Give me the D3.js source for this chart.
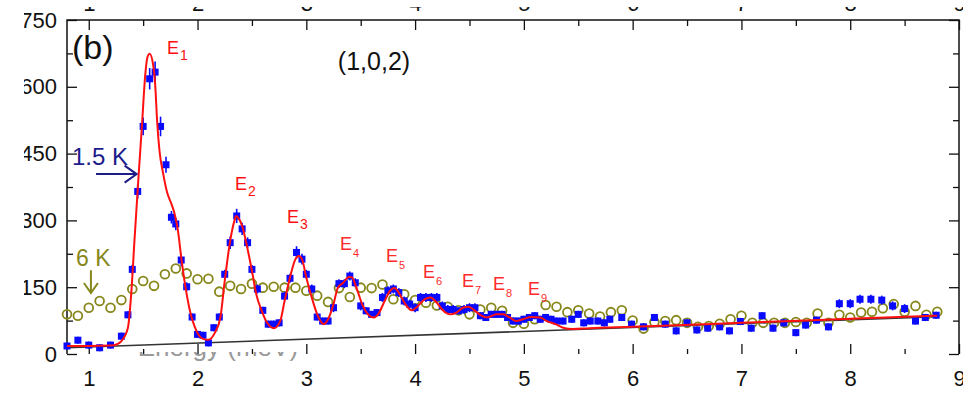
<!DOCTYPE html>
<html>
<head>
<meta charset="utf-8">
<script src="https://cdn.jsdelivr.net/npm/d3@7"></script>
<style>
  html, body { margin: 0; padding: 0; background: #fff; }
  svg { display: block; font-family: "Liberation Sans", Arial, sans-serif; }
</style>
</head>
<body>
<svg id="chart" width="963" height="393"></svg>
<script>
// ---- data: constant-Q cut at (1,0,2), intensity vs energy transfer (meV) ----
const energy6K = [0.8,0.9,1.0,1.1,1.2,1.3,1.4,1.5,1.6,1.7,1.8,1.9,2.0,2.1,2.2,2.3,2.4,2.5,2.6,2.7,
  2.8,2.9,3.0,3.1,3.2,3.3,3.4,3.5,3.6,3.7,3.8,3.9,4.0,4.1,4.2,4.3,4.4,4.5,4.6,4.7,
  4.8,4.9,5.0,5.1,5.2,5.3,5.4,5.5,5.6,5.7,5.8,5.9,6.0,6.1,6.2,6.3,6.4,6.5,6.6,6.7,
  6.8,6.9,7.0,7.1,7.2,7.3,7.4,7.5,7.6,7.7,7.8,7.9,8.0,8.1,8.2,8.3,8.4,8.5,8.6,8.7,8.8];
const counts6K = [89,86,104,119,104,121,146,164,153,179,192,181,168,169,140,153,146,158,149,151,
  149,149,142,131,117,148,128,149,148,156,123,134,121,115,109,106,98,89,100,104,
  97,70,68,78,110,106,94,98,91,84,94,98,75,57,72,74,76,70,61,63,
  68,78,86,70,70,70,70,72,70,91,70,88,82,93,95,103,112,95,108,88,95];

const energy15K = [0.80,0.90,1.00,1.10,1.20,1.30,
  1.36,1.40,1.45,1.50,1.56,1.61,1.66,1.71,1.76,1.80,
  1.85,1.90,1.95,2.00,2.05,2.10,2.15,2.20,2.25,2.30,
  2.36,2.41,2.46,2.50,2.55,2.60,2.65,2.70,2.75,2.80,
  2.85,2.91,2.96,3.00,3.05,3.10,3.15,3.20,3.25,3.30,
  3.35,3.40,3.45,3.50,3.55,3.60,3.65,3.70,3.75,3.80,
  3.85,3.90,3.95,4.00,4.05,4.10,4.15,4.20,4.25,4.30,
  4.35,4.40,4.45,4.50,4.55,4.60,4.65,4.70,4.75,4.80,
  4.85,4.90,4.95,5.00,5.05,5.10,5.15,5.20,5.25,5.30,
  5.36,5.44,5.50,5.55,5.61,5.68,5.74,5.79,5.90,5.99,
  6.10,6.20,6.30,6.40,6.50,6.59,6.69,6.80,6.89,6.99,
  7.09,7.19,7.29,7.39,7.50,7.59,7.69,7.80,7.90,8.00,
  8.09,8.19,8.29,8.39,8.50,8.60,8.69,8.79];
const counts15K = [18,31,20,14,20,40,
  88,190,365,511,618,633,511,425,307,292,
  211,151,83,44,42,25,59,83,179,250,
  310,281,250,190,146,98,67,67,70,130,
  170,228,213,179,146,83,74,74,104,158,
  158,175,160,108,97,89,93,127,142,146,
  138,119,112,104,127,127,127,127,108,100,
  100,97,100,104,104,86,82,89,89,89,
  82,74,74,78,82,86,78,82,78,74,
  74,78,89,70,74,74,70,78,82,67,
  61,82,67,52,70,54,58,61,52,73,
  58,86,58,70,48,65,76,61,113,113,
  123,123,121,108,102,74,82,87];
const err15K = [8,8,8,8,8,8,
  8,10,16,20,24,24,22,18,14,14,
  14,10,8,8,8,8,8,8,10,14,
  16,14,12,10,10,8,8,8,8,10,
  10,14,12,10,10,8,8,8,10,10,
  10,10,10,10,8,8,8,10,10,10,
  10,10,10,10,10,10,10,10,10,10,
  10,8,10,10,10,8,8,8,8,8,
  8,8,8,8,8,8,8,8,8,8,
  8,8,8,8,8,8,8,8,8,8,
  8,8,8,8,8,8,8,8,8,8,
  8,8,8,8,8,8,8,8,10,10,
  10,10,10,10,10,8,8,8];

// multi-peak fit to the 1.5 K data
const fitEnergy = [0.80,1.00,1.20,1.26,1.30,1.36,1.39,1.42,1.455,1.49,1.52,1.54,1.56,1.59,1.61,
  1.63,1.65,1.685,1.72,1.76,1.79,1.82,1.85,1.89,1.93,1.99,2.05,2.10,2.16,2.21,
  2.25,2.30,2.34,2.355,2.37,2.41,2.45,2.50,2.54,2.59,2.64,2.70,2.76,2.80,2.85,
  2.90,2.93,2.96,3.00,3.05,3.10,3.16,3.20,3.25,3.29,3.34,3.39,3.42,3.46,3.52,
  3.58,3.62,3.66,3.72,3.77,3.81,3.85,3.91,3.97,4.01,4.09,4.14,4.20,4.26,4.32,
  4.38,4.44,4.49,4.55,4.61,4.66,4.75,4.81,4.87,4.93,4.99,5.07,5.15,5.21,5.29,
  5.36,5.45,5.60,6.00,7.00,8.00,8.80];
const fitCounts = [18,18,19,22,29,59,134,254,389,517,629,667,674,652,607,
  517,457,404,363,337,314,277,217,149,97,52,34,32,48,82,
  164,254,300,310,307,288,247,187,134,97,70,58,74,119,172,
  213,220,213,172,127,89,67,78,112,149,160,173,172,149,108,
  86,82,89,119,142,148,138,112,98,104,123,127,115,97,89,
  93,104,106,97,86,82,89,89,82,74,78,83,82,74,67,
  59,56,58,61,70,79,86];

// linear background
const bgEnergy = [0.8, 8.8];
const bgCounts = [14, 84];

// axis ticks
const xTicks = [1, 2, 3, 4, 5, 6, 7, 8, 9];
const xMinorTicks = [1.5, 2.5, 3.5, 4.5, 5.5, 6.5, 7.5, 8.5];
const yTicks = [0, 150, 300, 450, 600, 750];
const yMinorTicks = [75, 225, 375, 525, 675];

// mode labels E1..E9 (anchor in data units)
const modeNames = ["1","2","3","4","5","6","7","8","9"];
const modeE = [1.719, 2.344, 2.822, 3.310, 3.733, 4.072, 4.431, 4.716, 5.038];
const modeI = [674, 368, 294, 233, 207, 171, 150, 144, 132];

// ---- drawing ----
const svg = d3.select("#chart");
const x = d3.scaleLinear().domain([0.8, 9.0]).range([67, 959]);
const y = d3.scaleLinear().domain([0, 750]).range([354, 20]);
const X0 = x.range()[0], X1 = x.range()[1], Y0 = y.range()[0], Y1 = y.range()[1];

function styleAxis(g, fs) {
  g.select(".domain").remove();
  g.attr("font-family", "Liberation Sans, Arial, sans-serif").attr("font-size", fs || 22);
  g.selectAll(".tick line").attr("stroke", "#111").attr("stroke-width", 1.3);
  g.selectAll(".tick text").attr("fill", "#111");
}

// x-axis title, hidden below the plot except for its lowest strip
svg.append("text")
  .attr("x", x(1.45)).attr("y", Y0 + 2)
  .attr("font-size", 26).attr("fill", "#999")
  .text("Energy (meV)");
svg.append("rect")
  .attr("x", x(1.2)).attr("y", Y0 - 30).attr("width", x(3.4) - x(1.2)).attr("height", 28)
  .attr("fill", "#fff");

// bottom axis (ticks point inward, no base line)
svg.append("g").attr("transform", `translate(0,${Y0})`)
  .call(d3.axisBottom(x).tickValues(xTicks).tickSize(-10).tickPadding(16).tickFormat(d3.format("d")))
  .call(g => styleAxis(g));
svg.append("g").attr("transform", `translate(0,${Y0})`)
  .call(d3.axisBottom(x).tickValues(xMinorTicks).tickSize(-5).tickFormat(""))
  .call(g => styleAxis(g));

// top tick labels, mostly beyond the page edge
svg.append("g").attr("transform", `translate(0,${Y1})`)
  .call(d3.axisTop(x).tickValues(xTicks).tickSize(0).tickPadding(9.5).tickFormat(d3.format("d")))
  .call(g => styleAxis(g));
svg.append("rect").attr("x", 0).attr("y", 0).attr("width", 963).attr("height", 7).attr("fill", "#fff");

// top axis ticks
svg.append("g").attr("transform", `translate(0,${Y1})`)
  .call(d3.axisTop(x).tickValues(xTicks).tickSize(-10).tickFormat(""))
  .call(g => styleAxis(g));
svg.append("g").attr("transform", `translate(0,${Y1})`)
  .call(d3.axisTop(x).tickValues(xMinorTicks).tickSize(-6).tickFormat(""))
  .call(g => styleAxis(g));

// left axis (labels trimmed by the left margin)
svg.append("g").attr("transform", `translate(${X0},0)`)
  .call(d3.axisLeft(y).tickValues(yTicks).tickSize(-10).tickPadding(10))
  .call(g => styleAxis(g));
svg.append("rect").attr("x", 0).attr("y", 0).attr("width", 24).attr("height", 393).attr("fill", "#fff");
svg.append("g").attr("transform", `translate(${X0},0)`)
  .call(d3.axisLeft(y).tickValues(yMinorTicks).tickSize(-6).tickFormat(""))
  .call(g => styleAxis(g));

// right axis
svg.append("g").attr("transform", `translate(${X1},0)`)
  .call(d3.axisRight(y).tickValues(yTicks).tickSize(-10).tickFormat(""))
  .call(g => styleAxis(g));
svg.append("g").attr("transform", `translate(${X1},0)`)
  .call(d3.axisRight(y).tickValues(yMinorTicks).tickSize(-6).tickFormat(""))
  .call(g => styleAxis(g));

// frame: left, top, right
svg.append("path")
  .attr("d", `M${X0},${Y0}V${Y1}H${X1}V${Y0}`)
  .attr("fill", "none").attr("stroke", "#111").attr("stroke-width", 1.5);

// background line
const bgData = bgEnergy.map((e, i) => [e, bgCounts[i]]);
svg.append("path")
  .datum(bgData)
  .attr("d", d3.line().x(d => x(d[0])).y(d => y(d[1])))
  .attr("fill", "none").attr("stroke", "#333").attr("stroke-width", 1.6);

// 6 K: open circles
const olive = "#87871c";
svg.append("g").selectAll("circle")
  .data(energy6K.map((e, i) => [e, counts6K[i]]))
  .join("circle")
  .attr("cx", d => x(d[0])).attr("cy", d => y(d[1])).attr("r", 4.4)
  .attr("fill", "none").attr("stroke", olive).attr("stroke-width", 1.8);

// 1.5 K: filled squares with error bars
const blue = "#0a0aff";
const pts = energy15K.map((e, i) => ({ e, c: counts15K[i], s: err15K[i] }));
svg.append("g").selectAll("line")
  .data(pts).join("line")
  .attr("x1", d => x(d.e)).attr("x2", d => x(d.e))
  .attr("y1", d => y(d.c - d.s)).attr("y2", d => y(d.c + d.s))
  .attr("stroke", blue).attr("stroke-width", 1.6);
const sq = 7;
svg.append("g").selectAll("rect")
  .data(pts).join("rect")
  .attr("x", d => x(d.e) - sq / 2).attr("y", d => y(d.c) - sq / 2)
  .attr("width", sq).attr("height", sq)
  .attr("fill", blue);

// fit
const fitData = fitEnergy.map((e, i) => [e, fitCounts[i]]);
svg.append("path")
  .datum(fitData)
  .attr("d", d3.line().x(d => x(d[0])).y(d => y(d[1])).curve(d3.curveMonotoneX))
  .attr("fill", "none").attr("stroke", "#ff1010").attr("stroke-width", 2);

// mode labels
modeNames.forEach((n, i) => {
  const small = i >= 3;
  const t = svg.append("text")
    .attr("x", x(modeE[i])).attr("y", y(modeI[i]))
    .attr("fill", small ? "#ff2a2a" : "#ff1010")
    .attr("font-size", 18);
  t.append("tspan").text("E");
  t.append("tspan").attr("font-size", small ? 11 : 14).attr("dy", small ? 7 : 6).attr("dx", 1).text(n);
});

// panel tag and Q label
svg.append("text").attr("x", x(0.846)).attr("y", y(663))
  .attr("font-size", 34).attr("fill", "#111").text("(b)");
svg.append("text").attr("x", x(3.29)).attr("y", y(638))
  .attr("font-size", 25).attr("fill", "#111").text("(1,0,2)");

// temperature annotations with arrows
const navy = "#1c1c8a";
svg.append("text").attr("x", x(0.846)).attr("y", y(424))
  .attr("font-size", 24).attr("fill", navy).text("1.5 K");
const ax0 = x(1.067), ax1 = x(1.44), ay = y(404);
svg.append("path")
  .attr("d", `M${ax0},${ay}H${ax1}M${ax1 - 12},${ay - 8.5}L${ax1},${ay}L${ax1 - 12},${ay + 8.5}`)
  .attr("fill", "none").attr("stroke", navy).attr("stroke-width", 2);

svg.append("text").attr("x", x(0.883)).attr("y", y(198))
  .attr("font-size", 23).attr("fill", olive).text("6 K");
const bx = x(1.02), by0 = y(188), by1 = y(137);
svg.append("path")
  .attr("d", `M${bx},${by0}V${by1}M${bx - 7},${by1 - 10}L${bx},${by1}L${bx + 7},${by1 - 10}`)
  .attr("fill", "none").attr("stroke", olive).attr("stroke-width", 2);
</script>
</body>
</html>
